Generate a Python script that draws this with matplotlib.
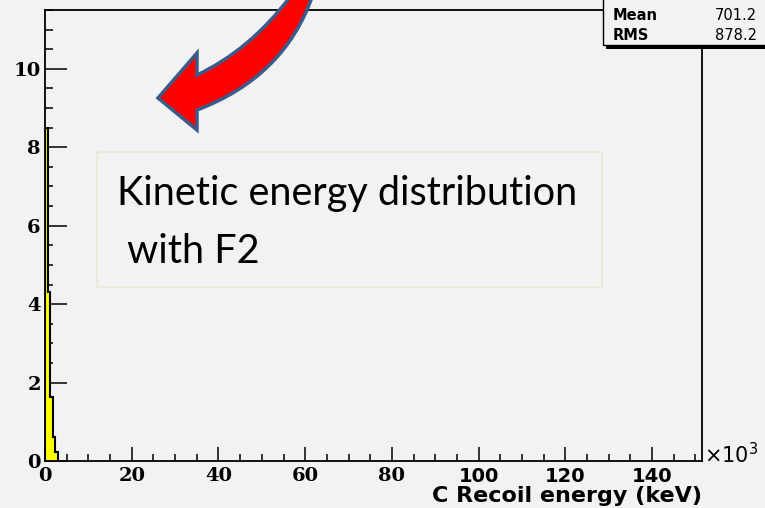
import matplotlib
matplotlib.use("Agg")
import matplotlib.pyplot as plt
from matplotlib.patches import Rectangle, PathPatch
from matplotlib.path import Path

# histogram of C recoil energy (x in 10^3 keV)
bin_edges = [0.0, 0.6, 1.2, 1.8, 2.4, 3.0]
counts = [8.5, 4.3, 1.63, 0.6, 0.23]

xticks = [0, 20, 40, 60, 80, 100, 120, 140]
xtick_labels = ["0", "20", "40", "60", "80", "100", "120", "140"]
yticks = [0, 2, 4, 6, 8, 10]
ytick_labels = ["0", "2", "4", "6", "8", "10"]

stat_names = ["Mean", "RMS"]
stat_values = ["701.2", "878.2"]

BG = "#f2f2f2"
W, H = 765, 508

fig = plt.figure(figsize=(W / 100, H / 100), dpi=100, facecolor=BG)
ax = fig.add_axes([45 / W, (H - 461) / H, (702 - 45) / W, (461 - 10) / H])
ax.set_facecolor(BG)

ax.stairs(counts, bin_edges, fill=True, facecolor="#ffff00",
          edgecolor="black", linewidth=1.5, zorder=2)

ax.set_xlim(0, 151.5)
ax.set_ylim(0, 11.5)
ax.set_xticks(xticks, labels=xtick_labels)
ax.set_xticks(range(0, 152, 5), minor=True)
ax.set_yticks(yticks, labels=ytick_labels)
ax.set_yticks([v * 0.5 for v in range(0, 24)], minor=True)

ax.tick_params(axis="both", which="both", direction="in", color="black", zorder=5)
ax.tick_params(axis="y", which="major", length=16, width=1.1, pad=3)
ax.tick_params(axis="y", which="minor", length=6, width=1.1)
ax.tick_params(axis="x", which="major", length=10, width=1.1, pad=4)
ax.tick_params(axis="x", which="minor", length=5, width=1.1)

for lbl in ax.get_yticklabels():
    lbl.set_fontfamily("DejaVu Serif")
    lbl.set_fontweight("bold")
    lbl.set_fontsize(14)
for lbl, v in zip(ax.get_xticklabels(), xticks):
    lbl.set_fontfamily("DejaVu Serif" if v < 100 else "DejaVu Sans")
    lbl.set_fontweight("bold")
    lbl.set_fontsize(14)

for s in ax.spines.values():
    s.set_linewidth(1.3)

ax.set_xlabel("C Recoil energy (keV)", loc="right", fontsize=16,
              fontfamily="DejaVu Sans", fontweight="bold", labelpad=0)

# overlay in pixel coordinates for annotations
ov = fig.add_axes([0, 0, 1, 1])
ov.set_xlim(0, W)
ov.set_ylim(H, 0)
ov.axis("off")

ov.text(704, 455, "×10$^3$", fontsize=15, fontfamily="DejaVu Sans",
        ha="left", va="center")

# stats box
ov.add_patch(Rectangle((606, 45), 170, 3.5, facecolor="black", edgecolor="none"))
ov.add_patch(Rectangle((603, -10), 175, 55, facecolor=BG, edgecolor="black", lw=1))
for i, (n, v) in enumerate(zip(stat_names, stat_values)):
    y = 15 + i * 20
    ov.text(613, y, n, fontsize=10.5, fontweight="bold", fontfamily="DejaVu Sans",
            ha="left", va="center")
    ov.text(757, y, v, fontsize=10.5, fontfamily="DejaVu Sans",
            ha="right", va="center")

# text box
ov.add_patch(Rectangle((97, 152), 505, 135, fill=False, edgecolor="#ebe7d6", lw=1.2))
ov.text(117, 205, "Kinetic energy distribution", fontsize=28.5,
        fontfamily="Lato", ha="left", va="baseline")
ov.text(117, 263, " with F2", fontsize=28.5,
        fontfamily="Lato", ha="left", va="baseline")

# curved red arrow
verts = [(158, 98), (197, 53), (197, 75), (250, 50), (290, -3), (312, -3),
         (284, 77), (197, 110), (197, 130), (158, 98)]
codes = [Path.MOVETO, Path.LINETO, Path.LINETO, Path.CURVE3, Path.CURVE3,
         Path.LINETO, Path.CURVE3, Path.CURVE3, Path.LINETO, Path.CLOSEPOLY]
ov.add_patch(PathPatch(Path(verts, codes), facecolor="#ff0000", edgecolor="#3b5b8a",
                       lw=2.5, joinstyle="miter"))

fig.savefig("out.png", dpi=100, facecolor=BG)
